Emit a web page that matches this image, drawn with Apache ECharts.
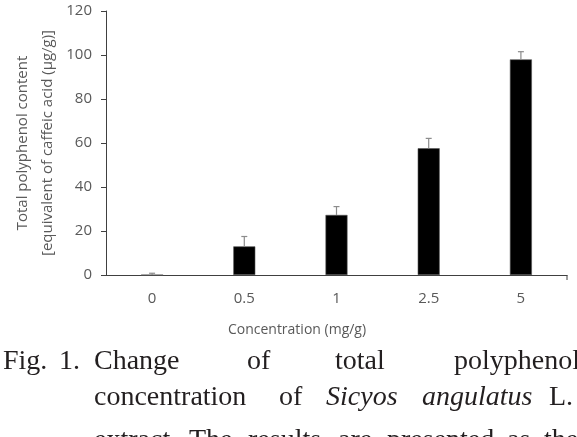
<!DOCTYPE html>
<html>
<head>
<meta charset="utf-8">
<script src="https://cdn.jsdelivr.net/npm/echarts@6/dist/echarts.min.js"></script>
<style>
  html, body { margin: 0; padding: 0; background: #fff; }
  #main { width: 577px; height: 437px; }
</style>
</head>
<body>
<div id="main"></div>
<script>
// 数据
const categories = ['0', '0.5', '1', '2.5', '5'];
const polyphenol = [0, 13, 27.3, 57.6, 98];
const stdError = [0.8, 4.5, 3.8, 4.5, 3.5];
const yTicks = [0, 20, 40, 60, 80, 100, 120];

const axisColor = '#404040';
const labelColor = '#595959';
const sansFont = '"Open Sans", sans-serif';
const serifFont = '"Liberation Serif", serif';

// 图注文字（两端对齐，逐词摆放）
const captionLines = [
  { y: 361.5, words: [['Fig.', 3], ['1.', 59], ['Change', 94], ['of', 247], ['total', 335], ['polyphenol', 454]] },
  { y: 397.5, words: [['concentration', 94], ['of', 279], ['Sicyos', 326, true], ['angulatus', 422, true], ['L.', 549]] },
  { y: 440.5, words: [['extract.', 94], ['The', 189], ['results', 248], ['are', 338], ['presented', 387], ['as', 507], ['the', 544]] }
];

const captionGraphics = [];
captionLines.forEach(function (line) {
  line.words.forEach(function (w) {
    captionGraphics.push({
      type: 'text',
      left: w[1],
      top: line.y - 14,
      style: {
        text: w[0],
        font: (w[2] ? 'italic ' : '') + '28px ' + serifFont,
        fill: '#231f20'
      }
    });
  });
});

const chart = echarts.init(document.getElementById('main'));

const option = {
  animation: false,
  backgroundColor: '#fff',
  grid: { left: 106, right: 10, top: 11, bottom: 162 },
  xAxis: {
    type: 'category',
    data: categories,
    boundaryGap: true,
    axisLine: { lineStyle: { color: axisColor, width: 1 } },
    axisTick: { alignWithLabel: true, length: 4, lineStyle: { color: '#8c8c8c' } },
    axisLabel: { color: labelColor, fontSize: 15, fontFamily: sansFont, margin: 16 }
  },
  yAxis: {
    type: 'value',
    min: yTicks[0],
    max: yTicks[yTicks.length - 1],
    interval: 20,
    splitLine: { show: false },
    axisLine: { show: true, lineStyle: { color: axisColor, width: 1 } },
    axisTick: { show: true, length: 5, lineStyle: { color: axisColor } },
    axisLabel: { color: labelColor, fontSize: 15, fontFamily: sansFont, margin: 14 }
  },
  series: [
    {
      type: 'bar',
      data: polyphenol,
      barWidth: 22,
      itemStyle: { color: '#000', borderColor: '#555', borderWidth: 0.6 },
      z: 2
    },
    {
      // 误差线
      type: 'custom',
      data: polyphenol.map(function (v, i) { return [i, v, v + stdError[i]]; }),
      renderItem: function (params, api) {
        const base = api.coord([api.value(0), api.value(1)]);
        const top = api.coord([api.value(0), api.value(2)]);
        const half = 3;
        const style = { stroke: '#8c8c8c', lineWidth: 1.2 };
        return {
          type: 'group',
          children: [
            { type: 'line', shape: { x1: base[0], y1: base[1], x2: top[0], y2: top[1] }, style: style },
            { type: 'line', shape: { x1: top[0] - half, y1: top[1], x2: top[0] + half, y2: top[1] }, style: style }
          ]
        };
      },
      z: 3
    }
  ],
  graphic: [
    {
      type: 'text',
      x: 35,
      y: 143,
      rotation: Math.PI / 2,
      style: {
        text: 'Total polyphenol content\n[equivalent of caffeic acid (μg/g)]',
        font: '15px ' + sansFont,
        fill: labelColor,
        align: 'center',
        verticalAlign: 'middle',
        lineHeight: 25
      }
    },
    {
      type: 'text',
      x: 297,
      y: 330,
      style: {
        text: 'Concentration (mg/g)',
        font: '14px ' + sansFont,
        fill: labelColor,
        align: 'center',
        verticalAlign: 'middle'
      }
    },
    {
      type: 'line',
      shape: { x1: 567, y1: 275, x2: 567, y2: 280 },
      style: { stroke: axisColor, lineWidth: 1 }
    }
  ].concat(captionGraphics)
};

chart.setOption(option);
</script>
</body>
</html>
